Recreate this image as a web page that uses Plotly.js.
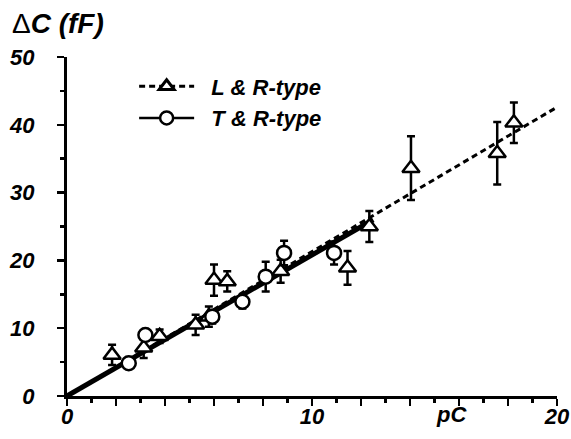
<!DOCTYPE html>
<html>
<head>
<meta charset="utf-8">
<script src="https://cdn.plot.ly/plotly-3.0.1.min.js"></script>
<style>html,body{margin:0;padding:0;background:#fff;}#chart{width:571px;height:439px;}</style>
</head>
<body>
<div id="chart"></div>
<script>
// L & R-type data (triangles)
var lrX   = [1.84, 3.13, 3.78, 5.25, 5.79, 6.0, 6.54, 8.72, 11.45, 12.34, 14.04, 17.56, 18.24];
var lrY   = [6.06, 7.1, 8.8, 10.5, 11.7, 17.1, 16.9, 18.4, 18.9, 25.0, 33.6, 35.8, 40.3];
var lrErr = [1.5, 1.5, 1.0, 1.5, 1.5, 2.3, 1.5, 1.7, 2.5, 2.3, 4.7, 4.6, 3.0];
// T & R-type data (circles)
var trX   = [2.52, 3.2, 5.93, 7.16, 8.11, 8.86, 10.9];
var trY   = [4.83, 9.0, 11.7, 13.9, 17.6, 21.1, 21.1];
var trErr = [0.5, 0.8, 1.0, 1.0, 2.2, 1.8, 1.7];
// Linear fits
var lrFitX = [0, 20];
var lrFitY = [0, 42.6];
var trFitX = [0, 12.5];
var trFitY = [0, 26.0];
// Axis ticks
var xTickVals = [0, 2, 4, 6, 8, 10, 12, 14, 16, 18, 20];
var xTickText = ['0', '', '', '', '', '10', '', '', '', '', '20'];
var yTickVals = [0, 10, 20, 30, 40, 50];
var yTickText = ['0', '10', '20', '30', '40', '50'];
var legendNames = ['L &amp; R-type', 'T &amp; R-type'];

var FONT = 'Liberation Sans, Arial, sans-serif';
var tickFont = {family: FONT, size: 22, color: '#000', weight: 'bold', style: 'italic'};

var traces = [
  {x: lrFitX, y: lrFitY, mode: 'lines', line: {color: '#000', width: 3, dash: '6px,4px'}, showlegend: false, hoverinfo: 'skip'},
  {x: trFitX, y: trFitY, mode: 'lines', line: {color: '#000', width: 5}, showlegend: false, hoverinfo: 'skip'},
  {x: lrX, y: lrY, mode: 'markers', showlegend: false,
   error_y: {type: 'data', array: lrErr, visible: true, color: '#000', thickness: 2.5, width: 4},
   marker: {symbol: 'triangle-up', size: 15, color: '#fff', line: {width: 2.5, color: '#000'}}},
  {x: trX, y: trY, mode: 'markers', showlegend: false,
   error_y: {type: 'data', array: trErr, visible: true, color: '#000', thickness: 2.5, width: 4},
   marker: {symbol: 'circle', size: 14, color: '#fff', line: {width: 2.5, color: '#000'}}},
  {x: [null], y: [null], mode: 'lines+markers', name: '&nbsp;&nbsp;' + legendNames[0],
   line: {color: '#000', width: 3, dash: '6px,4px'},
   marker: {symbol: 'triangle-up', size: 13, color: '#fff', line: {width: 3, color: '#000'}}},
  {x: [null], y: [null], mode: 'lines+markers', name: '&nbsp;&nbsp;' + legendNames[1],
   line: {color: '#000', width: 2.5},
   marker: {symbol: 'circle', size: 13, color: '#fff', line: {width: 2.5, color: '#000'}}}
];

var layout = {
  width: 571, height: 439,
  margin: {l: 67, r: 14, t: 57, b: 43, pad: 0, autoexpand: false},
  paper_bgcolor: '#fff', plot_bgcolor: '#fff',
  showlegend: true,
  legend: {x: 0.137, xref: 'paper', y: 0.975, yref: 'paper', xanchor: 'left', yanchor: 'top',
           font: {family: FONT, size: 22, color: '#000', weight: 'bold', style: 'italic'},
           bgcolor: 'rgba(0,0,0,0)', itemwidth: 55, tracegroupgap: 0},
  title: {text: '<span style="font-weight:normal;font-style:normal">Δ</span>C (fF)', xref: 'container', yref: 'container', x: 12/571, xanchor: 'left', y: 1 - 23/439, yanchor: 'middle',
          font: {family: FONT, size: 28, color: '#000', weight: 'bold', style: 'italic'}},
  xaxis: {range: [0, 20], showgrid: false, zeroline: false, showline: true, linecolor: '#000', linewidth: 3,
          ticks: 'outside', ticklen: 7, tickwidth: 2.5, tickcolor: '#000',
          tickmode: 'array', tickvals: xTickVals, ticktext: xTickText, tickfont: tickFont,
          ticklabelstandoff: -8,
          minor: {tickmode: 'linear', tick0: 0, dtick: 1, ticks: 'outside', ticklen: 4, tickwidth: 2.5, tickcolor: '#000', showgrid: false}},
  yaxis: {range: [0, 50], showgrid: false, zeroline: false, showline: true, linecolor: '#000', linewidth: 3,
          ticks: 'outside', ticklen: 7, tickwidth: 2.5, tickcolor: '#000',
          tickmode: 'array', tickvals: yTickVals, ticktext: yTickText, tickfont: tickFont,
          ticklabelstandoff: 18,
          minor: {tickmode: 'linear', tick0: 0, dtick: 5, ticks: 'outside', ticklen: 4, tickwidth: 2.5, tickcolor: '#000', showgrid: false}},
  annotations: [
    {text: 'pC', xref: 'x', yref: 'paper', x: 15.7, y: 0, yanchor: 'top', yshift: -4, showarrow: false,
     font: tickFont}
  ]
};

Plotly.newPlot('chart', traces, layout, {displayModeBar: false, staticPlot: true});
</script>
</body>
</html>
